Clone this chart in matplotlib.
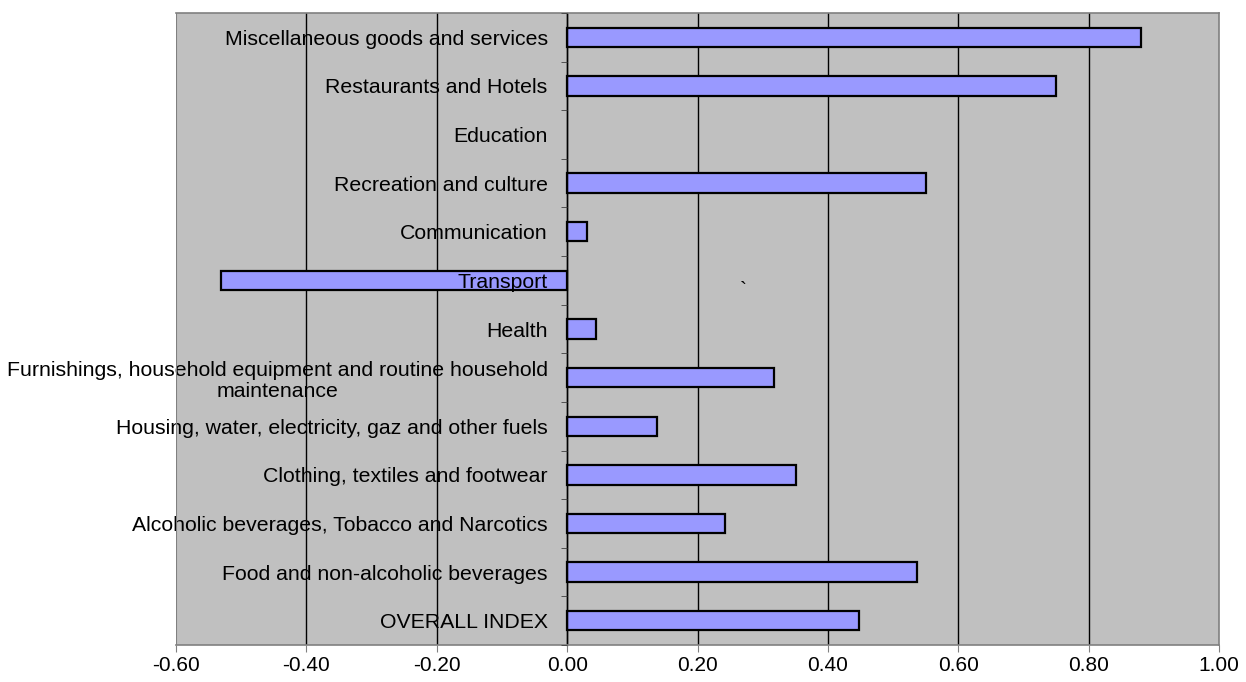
import matplotlib.pyplot as plt
import numpy as np

plt.rcParams['font.family'] = ['Liberation Sans', 'DejaVu Sans']

# categories, bottom to top
categories = [
    "OVERALL INDEX",
    "Food and non-alcoholic beverages",
    "Alcoholic beverages, Tobacco and Narcotics",
    "Clothing, textiles and footwear",
    "Housing, water, electricity, gaz and other fuels",
    "Furnishings, household equipment and routine household\nmaintenance",
    "Health",
    "Transport",
    "Communication",
    "Recreation and culture",
    "Education",
    "Restaurants and Hotels",
    "Miscellaneous goods and services",
]
# Education has no value
values = [0.448, 0.536, 0.242, 0.351, 0.138, 0.317, 0.044,
          -0.531, 0.031, 0.551, np.nan, 0.750, 0.881]
xticks = [-0.6, -0.4, -0.2, 0.0, 0.2, 0.4, 0.6, 0.8, 1.0]

fig = plt.figure(figsize=(12.46, 6.82), dpi=100)
ax = fig.add_axes([176 / 1246, 37 / 682, 1043 / 1246, 632 / 682])
ax.set_facecolor('#c0c0c0')

y = np.arange(len(categories))

# gridlines under the bars
for t in xticks[1:-1]:
    ax.axvline(t, color='black', lw=1, zorder=0.5)

ax.barh(y, values, height=0.4, color='#9999ff', edgecolor='black',
        linewidth=1.6, zorder=1)

ax.set_xlim(-0.6, 1.0)
ax.set_ylim(-0.5, len(categories) - 0.5)
ax.set_axisbelow(False)

# category axis crossing at zero
ax.spines['left'].set_position(('data', 0))
ax.spines['left'].set_color('black')
ax.spines['left'].set_linewidth(1)
for s in ['top', 'right', 'bottom']:
    ax.spines[s].set_color('#808080')
    ax.spines[s].set_linewidth(1.2)
ax.axvline(-0.6, color='#808080', lw=1.5, zorder=3)

ax.set_yticks(y)
ax.set_yticklabels(categories, fontsize=15.3)
ax.set_yticks(np.arange(len(categories) + 1) - 0.5, minor=True)
ax.tick_params(axis='y', which='major', length=0, pad=14)
ax.tick_params(axis='y', which='minor', length=4, color='#404040', direction='out')
for lab in ax.get_yticklabels():
    lab.set_multialignment('center')
    lab.set_linespacing(1.15)

ax.set_xticks(xticks)
ax.set_xticklabels(['%.2f' % t for t in xticks], fontsize=15)
ax.tick_params(axis='x', length=5, color='#808080', pad=3)

ax.text(0.27, 6.8, '`', fontsize=15, ha='center', va='center')

fig.savefig('out.png', dpi=100)
